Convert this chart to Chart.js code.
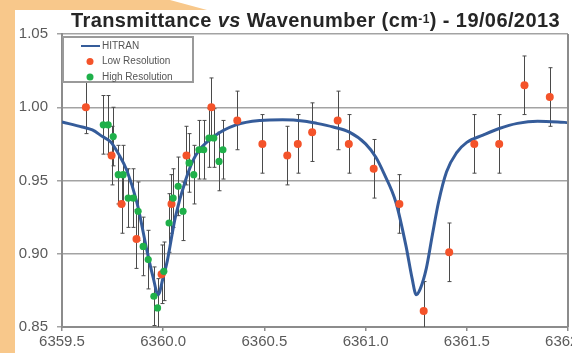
<!DOCTYPE html>
<html>
<head>
<meta charset="utf-8">
<script src="https://cdn.jsdelivr.net/npm/chart.js@4.4.0/dist/chart.umd.min.js"></script>
<style>
  body { margin: 0; width: 572px; height: 353px; overflow: hidden; background: #fff; position: relative;
         font-family: "Liberation Sans", Arial, sans-serif; }
  .orange-left { position: absolute; left: 0; top: 0; width: 15px; height: 353px; background: #f8c88b; }
  .orange-top { position: absolute; left: 0; top: 0; width: 210px; height: 10px; background: #f8c88b;
                clip-path: polygon(0 0, 170px 0, 207px 10px, 0 10px); }
  #wrap { position: absolute; left: 0; top: 0; width: 572px; height: 353px; }
  #title { position: absolute; left: 71px; top: 10px; font-weight: bold; font-size: 20px; line-height: 20px;
           letter-spacing: 0.4px; color: #262626; white-space: nowrap; }
  #title sup { font-size: 60%; position: relative; top: -1px; vertical-align: top; }
</style>
</head>
<body>
<div class="orange-left"></div>
<div class="orange-top"></div>
<div id="wrap"><canvas id="chart"></canvas></div>
<div id="title">Transmittance <i>vs</i> Wavenumber (cm<sup>-1</sup>) - 19/06/2013</div>
<script>
// HITRAN reference curve
const hitranX = [6359.50, 6359.60, 6359.65, 6359.70, 6359.74, 6359.78, 6359.82, 6359.87, 6359.92, 6359.95, 6359.975,
                 6360.00, 6360.02, 6360.06, 6360.11, 6360.16, 6360.25, 6360.36, 6360.48, 6360.59, 6360.70, 6360.76,
                 6360.84, 6360.92, 6361.00, 6361.05, 6361.09, 6361.15, 6361.20, 6361.23, 6361.25, 6361.27, 6361.30,
                 6361.33, 6361.36, 6361.40, 6361.45, 6361.50, 6361.58, 6361.66, 6361.75, 6361.85, 6361.95, 6362.00];
const hitranY = [0.990, 0.9865, 0.9845, 0.980, 0.9765, 0.968, 0.957, 0.935, 0.902, 0.884, 0.872,
                 0.884, 0.895, 0.925, 0.950, 0.967, 0.980, 0.988, 0.991, 0.9915, 0.9905, 0.989,
                 0.9865, 0.983, 0.975, 0.966, 0.955, 0.935, 0.905, 0.883, 0.872, 0.876, 0.890,
                 0.913, 0.935, 0.956, 0.969, 0.976, 0.981, 0.9855, 0.989, 0.9905, 0.990, 0.9895];

// Low resolution measurements
const lowX = [6359.618, 6359.745, 6359.794, 6359.868, 6359.992, 6360.041, 6360.115, 6360.238, 6360.366, 6360.490,
              6360.613, 6360.665, 6360.736, 6360.862, 6360.917, 6361.040, 6361.167, 6361.287, 6361.413, 6361.537,
              6361.660, 6361.785, 6361.910];
const lowY = [1.000, 0.967, 0.934, 0.910, 0.886, 0.934, 0.967, 1.000, 0.991, 0.975,
              0.967, 0.975, 0.983, 0.991, 0.975, 0.958, 0.934, 0.861, 0.901, 0.975,
              0.975, 1.015, 1.007];
const lowErr = [0.018, 0.02, 0.02, 0.02, 0.02, 0.02, 0.02, 0.02, 0.02, 0.02,
                0.02, 0.02, 0.02, 0.02, 0.02, 0.02, 0.02, 0.02, 0.02, 0.02,
                0.02, 0.02, 0.02];

// High resolution measurements
const highX = [6359.704, 6359.728, 6359.753, 6359.778, 6359.802, 6359.827, 6359.852, 6359.876, 6359.901, 6359.926,
               6359.954, 6359.972, 6360.003, 6360.029, 6360.049, 6360.074, 6360.098, 6360.128, 6360.151, 6360.177,
               6360.200, 6360.226, 6360.250, 6360.276, 6360.295];
const highY = [0.988, 0.988, 0.980, 0.954, 0.954, 0.938, 0.938, 0.929, 0.905, 0.896,
               0.871, 0.863, 0.888, 0.921, 0.938, 0.946, 0.929, 0.962, 0.954, 0.971,
               0.971, 0.979, 0.979, 0.963, 0.971];
const highErr = highX.map(() => 0.02);

const xTicks = [6359.5, 6362.0];
const yTicks = [0.85, 1.05];

function toPoints(xs, ys) {
    return xs.map((x, i) => ({ x: x, y: ys[i] }));
}

// error bars + frame + boxed legend
const extras = {
    id: 'extras',
    beforeDatasetsDraw(chart) {
        const ctx = chart.ctx;
        const area = chart.chartArea;
        const xs = chart.scales.x, ys = chart.scales.y;
        ctx.save();
        ctx.beginPath();
        ctx.rect(area.left, area.top, area.right - area.left, area.bottom - area.top);
        ctx.clip();
        ctx.strokeStyle = '#4a4a4a';
        ctx.lineWidth = 1;
        chart.data.datasets.forEach((ds) => {
            if (!ds.errors) return;
            ds.data.forEach((p, i) => {
                const px = Math.round(xs.getPixelForValue(p.x)) + 0.5;
                const y1 = ys.getPixelForValue(p.y + ds.errors[i]);
                const y2 = ys.getPixelForValue(p.y - ds.errors[i]);
                ctx.beginPath();
                ctx.moveTo(px, y1); ctx.lineTo(px, y2);
                ctx.moveTo(px - 2, y1); ctx.lineTo(px + 2, y1);
                ctx.moveTo(px - 2, y2); ctx.lineTo(px + 2, y2);
                ctx.stroke();
            });
        });
        ctx.restore();
    },
    afterDraw(chart) {
        const ctx = chart.ctx;
        const area = chart.chartArea;
        ctx.save();
        // right border
        ctx.strokeStyle = '#8c8c8c';
        ctx.lineWidth = 2;
        ctx.beginPath();
        ctx.moveTo(area.right, area.top);
        ctx.lineTo(area.right, area.bottom);
        ctx.stroke();

        // legend box
        const bx = area.left + 1, by = area.top + 3, bw = 130, bh = 45;
        ctx.fillStyle = '#fff';
        ctx.fillRect(bx, by, bw, bh);
        ctx.strokeStyle = '#9a9a9a';
        ctx.lineWidth = 2;
        ctx.strokeRect(bx, by, bw, bh);

        ctx.font = '10px "Liberation Sans", Arial, sans-serif';
        ctx.textBaseline = 'middle';
        ctx.textAlign = 'left';
        chart.data.datasets.forEach((ds, i) => {
            const cy = by + 9 + i * 15.5;
            if (ds.type === 'line') {
                ctx.strokeStyle = ds.borderColor;
                ctx.lineWidth = 2;
                ctx.beginPath();
                ctx.moveTo(bx + 18, cy); ctx.lineTo(bx + 37, cy);
                ctx.stroke();
            } else {
                ctx.fillStyle = ds.backgroundColor;
                ctx.beginPath();
                ctx.arc(bx + 27, cy, 3.5, 0, Math.PI * 2);
                ctx.fill();
            }
            ctx.fillStyle = '#555';
            ctx.fillText(ds.label, bx + 39, cy);
        });
        ctx.restore();
    }
};

const ctx = document.getElementById('chart').getContext('2d');
new Chart(ctx, {
    type: 'scatter',
    data: {
        datasets: [
            {
                type: 'line',
                label: 'HITRAN',
                data: toPoints(hitranX, hitranY),
                borderColor: '#355c9a',
                borderWidth: 3,
                pointRadius: 0,
                cubicInterpolationMode: 'monotone',
                fill: false,
                order: 3
            },
            {
                label: 'Low Resolution',
                data: toPoints(lowX, lowY),
                errors: lowErr,
                backgroundColor: '#f4532a',
                borderColor: '#f4532a',
                borderWidth: 0,
                pointRadius: 4,
                order: 2
            },
            {
                label: 'High Resolution',
                data: toPoints(highX, highY),
                errors: highErr,
                backgroundColor: '#1fb04a',
                borderColor: '#1fb04a',
                borderWidth: 0,
                pointRadius: 3.6,
                order: 1
            }
        ]
    },
    options: {
        responsive: true,
        maintainAspectRatio: false,
        animation: false,
        layout: { padding: { top: 34, right: 4, bottom: 0, left: 0 } },
        plugins: {
            legend: { display: false },
            tooltip: { enabled: false }
        },
        scales: {
            x: {
                type: 'linear',
                min: xTicks[0],
                max: xTicks[1],
                ticks: {
                    stepSize: 0.5,
                    callback: (v) => v.toFixed(1),
                    maxRotation: 0,
                    autoSkip: false,
                    color: '#5a5a5a',
                    font: { family: '"Liberation Sans", Arial, sans-serif', size: 15 },
                    padding: 2
                },
                grid: { drawOnChartArea: false, tickLength: 4, color: '#8c8c8c', lineWidth: 1.5 },
                border: { color: '#8c8c8c', width: 2 },
                afterFit(s) { s.paddingLeft = 0; s.paddingRight = 0; s.height = 26; }
            },
            y: {
                min: yTicks[0],
                max: yTicks[1],
                ticks: {
                    stepSize: 0.05,
                    callback: (v) => v.toFixed(2),
                    color: '#5a5a5a',
                    font: { family: '"Liberation Sans", Arial, sans-serif', size: 15 },
                    padding: 9
                },
                grid: { color: '#a3a3a3', lineWidth: 1.5, tickLength: 5 },
                border: { color: '#8c8c8c', width: 2 },
                afterFit(s) { s.width = 62; }
            }
        }
    },
    plugins: [extras]
});
</script>
</body>
</html>
